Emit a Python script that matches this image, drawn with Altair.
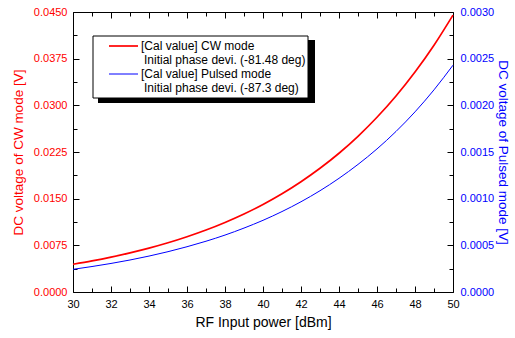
import altair as alt
import pandas as pd

# ---- data ----
power_dbm = list(range(30, 51))
cw_mode_v = [0.00445, 0.00499, 0.00560, 0.00629, 0.00705, 0.00791, 0.00888, 0.00996,
             0.01118, 0.01254, 0.01407, 0.01579, 0.01772, 0.01988, 0.02230, 0.02502,
             0.02808, 0.03150, 0.03535, 0.03966, 0.04450]
pulsed_mode_v = [0.000243, 0.000273, 0.000306, 0.000343, 0.000385, 0.000432, 0.000485,
                 0.000544, 0.000610, 0.000685, 0.000768, 0.000862, 0.000967, 0.001085,
                 0.001218, 0.001367, 0.001533, 0.001720, 0.001930, 0.002166, 0.002430]

x_major = list(range(30, 51, 2))
x_minor = list(range(31, 50, 2))
left_major = [0.0, 0.0075, 0.015, 0.0225, 0.03, 0.0375, 0.045]
left_minor = [0.00375, 0.01125, 0.01875, 0.02625, 0.03375, 0.04125]
right_major = [0.0, 0.0005, 0.001, 0.0015, 0.002, 0.0025, 0.003]
right_minor = [0.00025, 0.00075, 0.00125, 0.00175, 0.00225, 0.00275]

legend_texts = ["[Cal value] CW mode", "Initial phase devi. (-81.48 deg)",
                "[Cal value] Pulsed mode", "Initial phase devi. (-87.3 deg)"]

df = pd.DataFrame({"power": power_dbm, "cw": cw_mode_v, "pulsed": pulsed_mode_v})

FONT = "Liberation Sans"
RED = "#ff0000"
BLUE = "#0000ff"
W, H = 380, 280

xscale = alt.Scale(domain=[30, 50], nice=False, zero=False)
lscale = alt.Scale(domain=[0, 0.045], nice=False, zero=True)
rscale = alt.Scale(domain=[0, 0.003], nice=False, zero=True)

MAJ = {"expr": "-6"}
MIN = {"expr": "-4"}

base = alt.Chart(df)

red = base.mark_line(color=RED, strokeWidth=1.7, interpolate="monotone").encode(
    x=alt.X("power:Q", scale=xscale,
            axis=alt.Axis(orient="bottom", values=x_major, format="d", tickSize=MAJ,
                          labelPadding=12, labelFontSize=11, labelColor="#000",
                          title="RF Input power [dBm]", titleFontSize=14,
                          titleFontWeight="normal", titlePadding=6, grid=False,
                          domainColor="#000", tickColor="#000", labelFlush=False)),
    y=alt.Y("cw:Q", scale=lscale,
            axis=alt.Axis(orient="left", values=left_major, format=".4f", tickSize=MAJ,
                          labelPadding=12, labelFontSize=11, labelColor=RED,
                          title="DC voltage of CW mode [V]", titleColor=RED,
                          titleFontSize=13.5, titleFontWeight="normal", titlePadding=8,
                          grid=False, domainColor="#000", tickColor="#000", labelFlush=False)),
)

blue = base.mark_line(color=BLUE, strokeWidth=1.0, interpolate="monotone").encode(
    x=alt.X("power:Q", scale=xscale,
            axis=alt.Axis(orient="top", values=x_major, tickSize=MAJ, labels=False,
                          title=None, grid=False, domainColor="#000", tickColor="#000")),
    y=alt.Y("pulsed:Q", scale=rscale,
            axis=alt.Axis(orient="right", values=right_major, format=".4f", tickSize=MAJ,
                          labelPadding=13, labelFontSize=11, labelColor=BLUE,
                          title="DC voltage of Pulsed mode [V]", titleColor=BLUE,
                          titleFontSize=13.5, titleFontWeight="normal", titlePadding=2,
                          grid=False, domainColor="#000", tickColor="#000", labelFlush=False)),
)

red_minor = base.mark_line(opacity=0).encode(
    x=alt.X("power:Q", scale=xscale,
            axis=alt.Axis(orient="bottom", values=x_minor, tickSize=MIN, labels=False,
                          domain=False, title=None, grid=False, tickColor="#000")),
    y=alt.Y("cw:Q", scale=lscale,
            axis=alt.Axis(orient="left", values=left_minor, tickSize=MIN, labels=False,
                          domain=False, title=None, grid=False, tickColor="#000")),
)

blue_minor = base.mark_line(opacity=0).encode(
    x=alt.X("power:Q", scale=xscale,
            axis=alt.Axis(orient="top", values=x_minor, tickSize=MIN, labels=False,
                          domain=False, title=None, grid=False, tickColor="#000")),
    y=alt.Y("pulsed:Q", scale=rscale,
            axis=alt.Axis(orient="right", values=right_minor, tickSize=MIN, labels=False,
                          domain=False, title=None, grid=False, tickColor="#000")),
)

one = alt.Chart(pd.DataFrame({"k": [0]}))

shadow = one.mark_rect(color="#000").encode(
    x=alt.value(25), x2=alt.value(242), y=alt.value(28), y2=alt.value(91))
box = one.mark_rect(fill="#fff", stroke="#000", strokeWidth=1).encode(
    x=alt.value(20), x2=alt.value(235), y=alt.value(24), y2=alt.value(86))
red_key = one.mark_rule(color=RED, strokeWidth=1.7).encode(
    x=alt.value(36), x2=alt.value(65), y=alt.value(34))
blue_key = one.mark_rule(color=BLUE, strokeWidth=1.0).encode(
    x=alt.value(36), x2=alt.value(65), y=alt.value(62))

def label(txt, x, y):
    return one.mark_text(text=txt, align="left", baseline="middle", font=FONT,
                         fontSize=12, color="#000").encode(x=alt.value(x), y=alt.value(y))

t1 = label(legend_texts[0], 68, 34)
t2 = label(legend_texts[1], 71, 47.5)
t3 = label(legend_texts[2], 68, 62)
t4 = label(legend_texts[3], 71, 75.5)

chart = alt.layer(
    red_minor, blue_minor, red, blue, shadow, box, red_key, blue_key, t1, t2, t3, t4
).resolve_scale(
    y="independent"
).resolve_axis(
    x="independent", y="independent"
).properties(
    width=W, height=H,
    autosize=alt.AutoSizeParams(type="none"),
    padding={"left": 73, "top": 12, "right": 62, "bottom": 46},
).configure(
    font=FONT,
).configure_view(
    stroke=None,
).configure_axis(
    labelFont=FONT, titleFont=FONT, domainWidth=1, tickWidth=1,
)

chart.save("out.html", embed_options={"renderer": "svg", "actions": False})
